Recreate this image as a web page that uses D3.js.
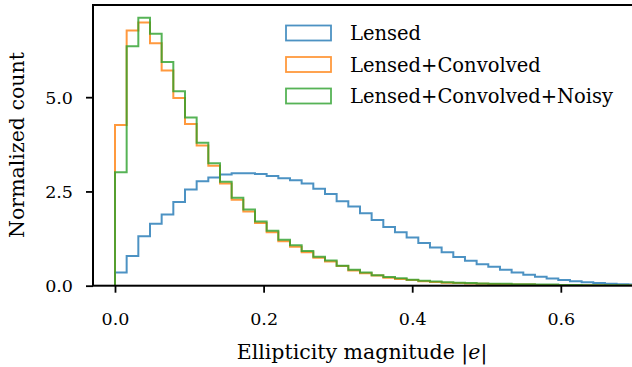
<!DOCTYPE html>
<html><head><meta charset="utf-8">
<script src="https://cdn.jsdelivr.net/npm/d3@7"></script>
<style>body{margin:0;background:#fff}svg{display:block}text{font-family:"DejaVu Serif","Liberation Serif",serif;fill:#000}</style>
</head><body><svg id="c" width="632" height="367"></svg>
<script>
const binWidth = 0.0157;
const lensed = [0.35,0.79,1.31,1.64,1.89,2.22,2.55,2.77,2.87,2.95,2.98,2.98,2.96,2.91,2.85,2.80,2.71,2.57,2.43,2.24,2.10,1.92,1.74,1.56,1.42,1.28,1.13,1.01,0.89,0.76,0.66,0.57,0.50,0.42,0.35,0.29,0.24,0.19,0.15,0.12,0.09,0.07,0.05,0.04,0.03,0.02];
const convolved = [4.26,6.77,6.98,6.43,5.71,4.98,4.29,3.72,3.18,2.71,2.28,1.97,1.66,1.42,1.18,1.03,0.89,0.74,0.64,0.52,0.40,0.33,0.27,0.21,0.18,0.15,0.12,0.10,0.08,0.07,0.06,0.05,0.045,0.04,0.03,0.03,0.02,0.02,0.015,0.01,0.01,0.01,0.005,0.005,0.005,0.003];
const noisy = [3.01,6.35,7.11,6.68,5.93,5.16,4.46,3.79,3.25,2.76,2.33,2.02,1.70,1.46,1.22,1.07,0.92,0.77,0.67,0.53,0.42,0.35,0.28,0.23,0.20,0.16,0.13,0.11,0.09,0.08,0.07,0.06,0.05,0.05,0.04,0.04,0.03,0.03,0.02,0.02,0.015,0.01,0.01,0.01,0.005,0.005];
const seriesNames = ["Lensed","Lensed+Convolved","Lensed+Convolved+Noisy"];
const seriesColors = ["#1f77b4","#ff7f0e","#2ca02c"];
const xTicks = [0.0,0.2,0.4,0.6];
const yTicks = [0.0,2.5,5.0];

const svg = d3.select("#c");
const L=93,T=5,R=632,B=285.7;
const x = d3.scaleLinear().domain([-0.0296,0.6958]).range([L,R]);
const y = d3.scaleLinear().domain([0,7.445]).range([B,T]);

svg.append("defs").append("clipPath").attr("id","pc").append("rect")
  .attr("x",L).attr("y",T).attr("width",R-L+2).attr("height",B-T);

function stepPts(vals){
  const pts=[[0,0]];
  vals.forEach((v,i)=>{pts.push([i*binWidth,v]);pts.push([(i+1)*binWidth,v]);});
  pts.push([vals.length*binWidth,0]);
  return pts;
}
const line = d3.line().x(d=>x(d[0])).y(d=>y(d[1]));
const g = svg.append("g").attr("clip-path","url(#pc)");
[lensed,convolved,noisy].forEach((vals,i)=>{
  g.append("path").attr("d",line(stepPts(vals))).attr("fill","none")
   .attr("stroke",seriesColors[i]).attr("stroke-opacity",0.8).attr("stroke-width",2)
   .attr("stroke-linejoin","miter");
});

// axes
const xa = svg.append("g").attr("transform",`translate(0,${B})`)
  .call(d3.axisBottom(x).tickValues(xTicks).tickFormat(d3.format(".1f")).tickSize(7).tickPadding(20));
const ya = svg.append("g").attr("transform",`translate(${L},0)`)
  .call(d3.axisLeft(y).tickValues(yTicks).tickFormat(d3.format(".1f")).tickSize(7).tickPadding(13));
[xa,ya].forEach(a=>{a.select(".domain").remove();a.selectAll(".tick line").attr("stroke","#000").attr("stroke-width",1.8);
  a.selectAll(".tick text").attr("font-size",17.5).attr("font-family","DejaVu Serif, Liberation Serif, serif").attr("fill","#000");});
ya.selectAll(".tick text").attr("dy","0.35em");

svg.append("rect").attr("x",L).attr("y",T).attr("width",R-L+5).attr("height",B-T)
  .attr("fill","none").attr("stroke","#000").attr("stroke-width",2);

// labels
const xl = svg.append("text").attr("x",362).attr("y",359).attr("text-anchor","middle").attr("font-size",20.5);
xl.append("tspan").text("Ellipticity magnitude |");
xl.append("tspan").attr("font-style","italic").text("e");
xl.append("tspan").text("|");
svg.append("text").attr("transform","translate(24,145) rotate(-90)").attr("text-anchor","middle")
  .attr("font-size",20.5).text("Normalized count");

// legend
const lg = svg.append("g");
seriesNames.forEach((n,i)=>{
  const cy = 33 + i*31.5;
  lg.append("rect").attr("x",286).attr("y",cy-7.5).attr("width",45).attr("height",15)
    .attr("fill","none").attr("stroke",seriesColors[i]).attr("stroke-opacity",0.8).attr("stroke-width",1.8);
  lg.append("text").attr("x",350).attr("y",cy+7).attr("font-size",19.5).text(n);
});
</script></body></html>
